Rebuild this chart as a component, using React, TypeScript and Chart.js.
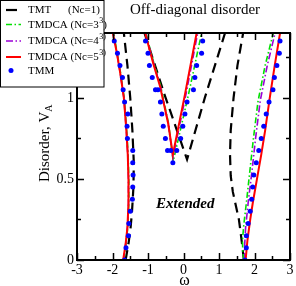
import React, { useEffect, useRef } from "react";
import { Chart, registerables } from "chart.js";
Chart.register(...registerables);

const SERIF = "'Liberation Serif', 'Times New Roman', Times, serif";

const X_MIN = -3;
const X_MAX = 3;
const Y_MIN = 0;
const Y_MAX = 1.4;
const X_TICK_LABELS = [-3, -2, -1, 0, 1, 2, 3];
const X_MINOR_TICKS = [-2.5, -1.5, -0.5, 0.5, 1.5, 2.5];
const Y_TICK_LABELS = [0, 0.5, 1];
const Y_MINOR_TICKS = [0.25, 0.75, 1.25];

const TITLE = "Off-diagonal disorder";
const Y_TITLE = "Disorder, V";
const Y_TITLE_SUB = "A";
const X_TITLE = "\u03c9";
const REGION_LABEL = "Extended";

// TMT (Nc=1)
const TMT_LEFT_W = [-1.63, -1.55, -1.49, -1.45, -1.41, -1.40, -1.44, -1.50, -1.58, -1.68];
const TMT_LEFT_V = [0, 0.1, 0.2, 0.3, 0.45, 0.6, 0.8, 1.0, 1.2, 1.4];
const TMT_MID_W = [-1.10, -0.55, 0.10, 0.60, 1.17];
const TMT_MID_V = [1.4, 1.03, 0.62, 1.0, 1.4];
const TMT_RIGHT_W = [1.70, 1.66, 1.62, 1.56, 1.48, 1.39, 1.33, 1.31, 1.33, 1.41, 1.52, 1.68];
const TMT_RIGHT_V = [0, 0.08, 0.15, 0.25, 0.33, 0.42, 0.52, 0.65, 0.8, 1.0, 1.2, 1.4];

// TMDCA Nc=3^3
const G_LEFT_W = [-1.68, -1.62, -1.57, -1.54, -1.54, -1.56, -1.60, -1.67, -1.77, -1.87, -1.97];
const G_LEFT_V = [0, 0.1, 0.2, 0.35, 0.5, 0.65, 0.8, 1.0, 1.15, 1.28, 1.4];
const G_MID_W = [-1.06, -0.83, -0.64, -0.42, -0.29, -0.10, 0.15, 0.51];
const G_MID_V = [1.4, 1.21, 1.07, 0.84, 0.61, 0.79, 1.03, 1.4];
const G_RIGHT_W = [1.70, 1.67, 1.66, 1.70, 1.78, 1.87, 1.97, 2.10, 2.30, 2.53];
const G_RIGHT_V = [0, 0.06, 0.12, 0.22, 0.37, 0.55, 0.75, 0.98, 1.2, 1.4];

// TMDCA Nc=4^3
const P_LEFT_W = [-1.69, -1.63, -1.58, -1.55, -1.55, -1.57, -1.61, -1.68, -1.78, -1.88, -1.98];
const P_LEFT_V = [0, 0.1, 0.2, 0.35, 0.5, 0.65, 0.8, 1.0, 1.15, 1.28, 1.4];
const P_MID_W = [-1.07, -0.84, -0.65, -0.43, -0.30, 0.05, 0.40];
const P_MID_V = [1.4, 1.21, 1.07, 0.84, 0.63, 1.0, 1.4];
const P_RIGHT_W = [1.73, 1.72, 1.75, 1.83, 1.93, 2.03, 2.16, 2.36, 2.58];
const P_RIGHT_V = [0, 0.08, 0.2, 0.37, 0.55, 0.75, 0.98, 1.2, 1.4];

// TMDCA Nc=5^3
const R_LEFT_W = [-1.70, -1.63, -1.58, -1.55, -1.55, -1.57, -1.61, -1.68, -1.78, -1.88, -1.99];
const R_LEFT_V = [0, 0.1, 0.2, 0.35, 0.5, 0.65, 0.8, 1.0, 1.15, 1.28, 1.4];
const R_MID_W = [-1.08, -0.85, -0.66, -0.43, -0.30, 0.04, 0.37];
const R_MID_V = [1.4, 1.21, 1.07, 0.84, 0.65, 1.02, 1.4];
const R_RIGHT_W = [1.75, 1.80, 1.88, 1.95, 2.07, 2.19, 2.30, 2.43, 2.57, 2.72];
const R_RIGHT_V = [0, 0.12, 0.25, 0.35, 0.5, 0.65, 0.8, 1.0, 1.2, 1.4];

// TMM points
const TMM_LEFT_W = [-1.66, -1.62, -1.55, -1.54, -1.50, -1.44, -1.43, -1.42, -1.43, -1.43, -1.58, -1.59, -1.57, -1.66, -1.70, -1.72, -1.79, -1.86, -1.95];
const TMM_LEFT_V = [0, 0.075, 0.15, 0.225, 0.3, 0.375, 0.45, 0.525, 0.6, 0.675, 0.75, 0.825, 0.9, 0.975, 1.05, 1.125, 1.2, 1.275, 1.35];
const TMM_MID_W = [-1.07, -1.00, -0.96, -0.88, -0.79, -0.72, -0.65, -0.61, -0.57, -0.51, -0.45, -0.36, -0.30, -0.19, -0.08, -0.02, 0.04, 0.10, 0.28, 0.32, 0.37, 0.51, 0.54];
const TMM_MID_V = [1.35, 1.275, 1.2, 1.125, 1.05, 1.05, 0.975, 0.9, 0.825, 0.75, 0.675, 0.675, 0.6, 0.675, 0.75, 0.825, 0.9, 0.975, 1.05, 1.125, 1.2, 1.275, 1.35];
const TMM_RIGHT_W = [1.73, 1.77, 1.77, 1.82, 1.88, 1.92, 1.95, 1.98, 2.05, 2.12, 2.19, 2.26, 2.33, 2.41, 2.52, 2.56, 2.63, 2.70, 2.72];
const TMM_RIGHT_V = [0, 0.075, 0.15, 0.225, 0.3, 0.375, 0.45, 0.525, 0.6, 0.675, 0.75, 0.825, 0.9, 0.975, 1.05, 1.125, 1.2, 1.275, 1.35];

const BLACK = "#000000";
const GREEN = "#00e000";
const PURPLE = "#9b00d6";
const RED = "#ff0000";
const BLUE = "#0000ff";

const STYLE_TMT = { color: BLACK, width: 2.2, dash: [10, 6] };
const STYLE_G = { color: GREEN, width: 1.6, dash: [6, 2.5, 1.5, 2.5] };
const STYLE_P = { color: PURPLE, width: 1.6, dash: [7, 2.5, 1.5, 2.5] };
const STYLE_R = { color: RED, width: 2, dash: [] as number[] };

function zip(ws: number[], vs: number[]) {
  return ws.map((w, i) => ({ x: w, y: vs[i] }));
}

function lineSet(ws: number[], vs: number[], st: any, order: number) {
  return {
    data: zip(ws, vs),
    showLine: true,
    borderColor: st.color,
    borderWidth: st.width,
    borderDash: st.dash,
    pointRadius: 0,
    fill: false,
    tension: 0,
    order,
  };
}

function dotSet(ws: number[], vs: number[], order: number) {
  return {
    data: zip(ws, vs),
    showLine: false,
    pointRadius: 2.5,
    pointBackgroundColor: BLUE,
    pointBorderWidth: 0,
    borderColor: BLUE,
    order,
  };
}

const decorPlugin = {
  id: "decor",
  afterDraw(chart: any) {
    const ctx = chart.ctx as CanvasRenderingContext2D;
    const { left, right, top, bottom } = chart.chartArea;
    const xs = chart.scales.x;
    const ys = chart.scales.y;
    ctx.save();
    ctx.setLineDash([]);
    ctx.strokeStyle = "#000";
    ctx.lineWidth = 1.5;
    const xt = (v: number, len: number) => {
      const px = Math.round(xs.getPixelForValue(v)) + 0.5;
      ctx.beginPath();
      ctx.moveTo(px, bottom);
      ctx.lineTo(px, bottom - len);
      ctx.moveTo(px, top);
      ctx.lineTo(px, top + len);
      ctx.stroke();
    };
    const yt = (v: number, len: number) => {
      const py = Math.round(ys.getPixelForValue(v)) + 0.5;
      ctx.beginPath();
      ctx.moveTo(left, py);
      ctx.lineTo(left + len, py);
      ctx.moveTo(right, py);
      ctx.lineTo(right - len, py);
      ctx.stroke();
    };
    X_TICK_LABELS.forEach((v) => xt(v, 7));
    X_MINOR_TICKS.forEach((v) => xt(v, 4));
    Y_TICK_LABELS.forEach((v) => yt(v, 7));
    Y_MINOR_TICKS.forEach((v) => yt(v, 4));
    ctx.lineWidth = 2;
    ctx.strokeRect(left, top, right - left, bottom - top);

    // tick labels
    ctx.fillStyle = "#000";
    ctx.font = `14px ${SERIF}`;
    ctx.textAlign = "center";
    ctx.textBaseline = "alphabetic";
    X_TICK_LABELS.forEach((v) => {
      ctx.fillText(String(v), xs.getPixelForValue(v), 274);
    });
    ctx.textAlign = "right";
    ctx.textBaseline = "middle";
    Y_TICK_LABELS.forEach((v) => {
      ctx.fillText(String(v), 74, ys.getPixelForValue(v) + 0.5);
    });

    // title
    ctx.font = `15px ${SERIF}`;
    ctx.textAlign = "center";
    ctx.textBaseline = "alphabetic";
    ctx.fillText(TITLE, 195, 14);

    // x title
    ctx.font = `16px ${SERIF}`;
    ctx.fillText(X_TITLE, xs.getPixelForValue(0) + 1, 285);

    // region label
    ctx.font = `italic bold 15px ${SERIF}`;
    ctx.textBaseline = "middle";
    ctx.fillText(REGION_LABEL, xs.getPixelForValue(0.05), ys.getPixelForValue(0.345));

    // y title
    ctx.save();
    ctx.translate(49, 182);
    ctx.rotate(-Math.PI / 2);
    ctx.textAlign = "left";
    ctx.textBaseline = "alphabetic";
    ctx.font = `15px ${SERIF}`;
    ctx.fillText(Y_TITLE, 0, 0);
    const tw = ctx.measureText(Y_TITLE).width;
    ctx.font = `10px ${SERIF}`;
    ctx.fillText(Y_TITLE_SUB, tw, 3);
    ctx.restore();

    // legend
    ctx.fillStyle = "#fff";
    ctx.fillRect(0, 0, 104, 87);
    ctx.strokeStyle = "#000";
    ctx.lineWidth = 1;
    ctx.strokeRect(0.5, 0.5, 103.5, 86.5);
    const rows = [
      { y: 10, st: STYLE_TMT, end: 17, main: "TMT", sup: "", tail: "" },
      { y: 24.5, st: STYLE_G, end: 21, main: "TMDCA (Nc=3", sup: "3", tail: ")" },
      { y: 41, st: STYLE_P, end: 21, main: "TMDCA (Nc=4", sup: "3)", tail: "" },
      { y: 57, st: STYLE_R, end: 21, main: "TMDCA (Nc=5", sup: "3)", tail: "" },
    ];
    rows.forEach((r) => {
      ctx.save();
      ctx.strokeStyle = r.st.color;
      ctx.lineWidth = r.st.width;
      ctx.setLineDash(r.st.dash.length && r.end < 20 ? [] : r.st.dash);
      ctx.beginPath();
      ctx.moveTo(6, r.y);
      ctx.lineTo(r.end, r.y);
      ctx.stroke();
      ctx.restore();
      ctx.fillStyle = "#000";
      ctx.textAlign = "left";
      ctx.textBaseline = "middle";
      ctx.font = `11px ${SERIF}`;
      ctx.fillText(r.main, 28, r.y + 0.5);
      let x = 28 + ctx.measureText(r.main).width;
      if (r.sup) {
        ctx.font = `8px ${SERIF}`;
        ctx.fillText(r.sup, x + 0.5, r.y - 4);
        x += ctx.measureText(r.sup).width + 0.5;
      }
      if (r.tail) {
        ctx.font = `11px ${SERIF}`;
        ctx.fillText(r.tail, x, r.y + 0.5);
      }
    });
    ctx.font = `11px ${SERIF}`;
    ctx.fillText("(Nc=1)", 68, 10.5);
    ctx.fillStyle = BLUE;
    ctx.beginPath();
    ctx.arc(11, 70.5, 2.5, 0, Math.PI * 2);
    ctx.fill();
    ctx.fillStyle = "#000";
    ctx.fillText("TMM", 28, 71);
    ctx.restore();
  },
};

export default function App() {
  const ref = useRef<HTMLCanvasElement | null>(null);
  useEffect(() => {
    if (!ref.current) return;
    const chart = new Chart(ref.current, {
      type: "scatter",
      data: {
        datasets: [
          dotSet(TMM_LEFT_W, TMM_LEFT_V, 0),
          dotSet(TMM_MID_W, TMM_MID_V, 0),
          dotSet(TMM_RIGHT_W, TMM_RIGHT_V, 0),
          lineSet(R_LEFT_W, R_LEFT_V, STYLE_R, 1),
          lineSet(R_MID_W, R_MID_V, STYLE_R, 1),
          lineSet(R_RIGHT_W, R_RIGHT_V, STYLE_R, 1),
          lineSet(P_LEFT_W, P_LEFT_V, STYLE_P, 2),
          lineSet(P_MID_W, P_MID_V, STYLE_P, 2),
          lineSet(P_RIGHT_W, P_RIGHT_V, STYLE_P, 2),
          lineSet(G_LEFT_W, G_LEFT_V, STYLE_G, 3),
          lineSet(G_MID_W, G_MID_V, STYLE_G, 3),
          lineSet(G_RIGHT_W, G_RIGHT_V, STYLE_G, 3),
          lineSet(TMT_LEFT_W, TMT_LEFT_V, STYLE_TMT, 4),
          lineSet(TMT_MID_W, TMT_MID_V, STYLE_TMT, 4),
          lineSet(TMT_RIGHT_W, TMT_RIGHT_V, STYLE_TMT, 4),
        ] as any,
      },
      options: {
        responsive: false,
        animation: false,
        devicePixelRatio: 1,
        layout: { padding: { left: 0, top: 33, right: 6, bottom: 0 } },
        plugins: {
          legend: { display: false },
          tooltip: { enabled: false },
          title: { display: false },
        },
        scales: {
          x: {
            type: "linear",
            min: X_MIN,
            max: X_MAX,
            grid: { display: false },
            border: { display: false },
            afterBuildTicks: (s: any) => {
              s.ticks = X_TICK_LABELS.map((v) => ({ value: v }));
            },
            ticks: { display: false },
            afterFit: (s: any) => {
              s.height = 26;
            },
          },
          y: {
            type: "linear",
            min: Y_MIN,
            max: Y_MAX,
            grid: { display: false },
            border: { display: false },
            afterBuildTicks: (s: any) => {
              s.ticks = Y_TICK_LABELS.map((v) => ({ value: v }));
            },
            ticks: { display: false },
            afterFit: (s: any) => {
              s.width = 77;
            },
          },
        },
      } as any,
      plugins: [decorPlugin],
    });
    return () => chart.destroy();
  }, []);
  return (
    <div style={{ position: "fixed", left: 0, top: 0, width: 296, height: 286, background: "#fff" }}>
      <canvas ref={ref} width={296} height={286} style={{ width: 296, height: 286, display: "block" }} />
    </div>
  );
}
